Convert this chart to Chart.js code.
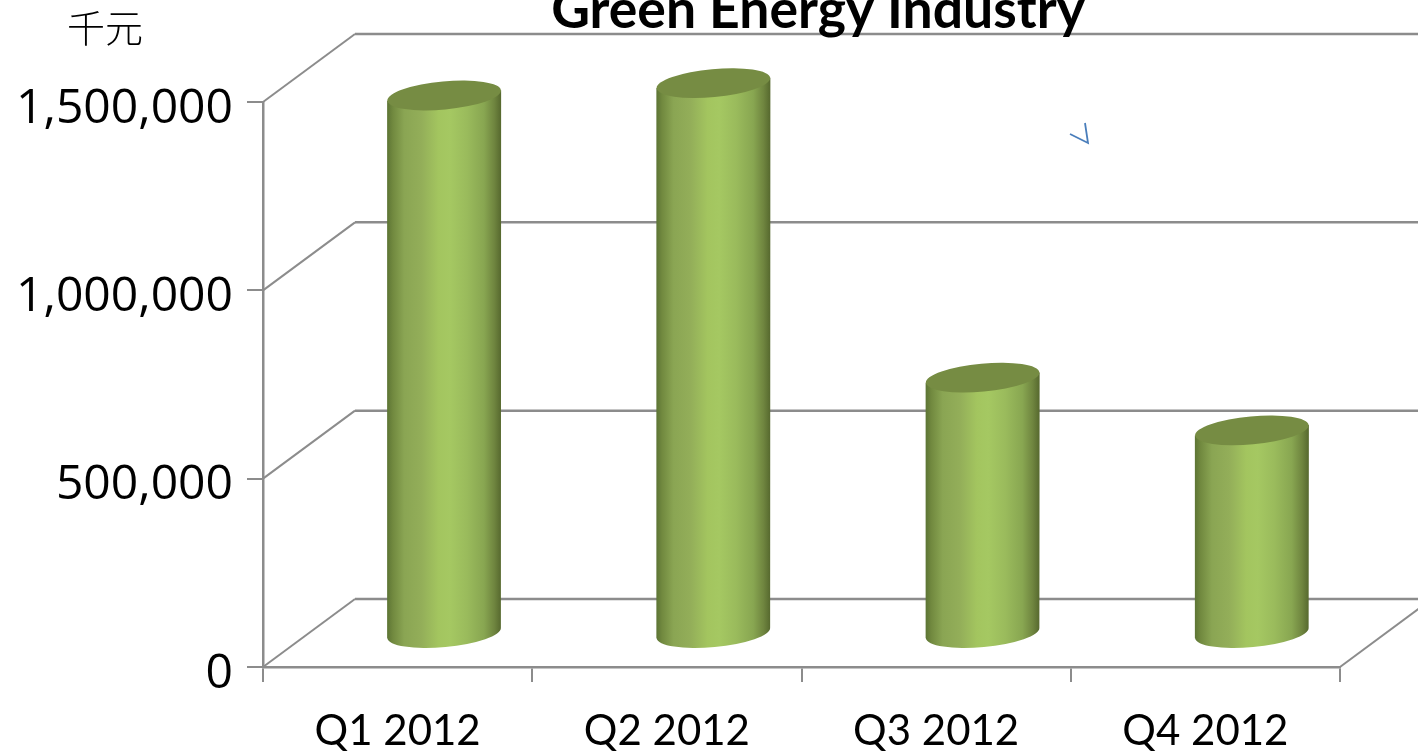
<!DOCTYPE html>
<html>
<head>
<meta charset="utf-8">
<title>Green Energy Industry</title>
<script src="https://cdn.jsdelivr.net/npm/chart.js@4"></script>
<style>
  html, body { margin: 0; padding: 0; background: #ffffff; overflow: hidden; }
  canvas { display: block; }
</style>
</head>
<body>
<canvas id="chart" width="1418" height="751"></canvas>
<script>
const quarters = ["Q1 2012", "Q2 2012", "Q3 2012", "Q4 2012"];
const revenue = [1427000, 1460000, 678000, 538000];
const yTickLabels = ["0", "500,000", "1,000,000", "1,500,000"];

const titleText = "Green Energy Industry";
const unitText = "千元";

const lineColor = "#8c8c8c";
// how far the back wall sits behind the front plane
const depthX = 92;
const depthY = 68;

// the walls and floor of the 3D box, behind the cylinders
const box3d = {
  id: "box3d",
  beforeDatasetsDraw(chart) {
    const { ctx, chartArea, scales } = chart;
    ctx.save();
    ctx.strokeStyle = lineColor;
    scales.y.ticks.forEach((tick) => {
      const y = scales.y.getPixelForValue(tick.value);
      ctx.lineWidth = 2;
      ctx.beginPath();
      ctx.moveTo(chartArea.left, y);
      ctx.lineTo(chartArea.left + depthX, y - depthY);
      ctx.stroke();
      ctx.lineWidth = 2.5;
      ctx.beginPath();
      ctx.moveTo(chartArea.left + depthX, y - depthY);
      ctx.lineTo(chart.width, y - depthY);
      ctx.stroke();
    });
    // right edge of the floor runs off the canvas
    ctx.lineWidth = 2;
    ctx.beginPath();
    ctx.moveTo(chartArea.right, chartArea.bottom);
    ctx.lineTo(chartArea.right + depthX, chartArea.bottom - depthY);
    ctx.stroke();
    ctx.restore();
  },
};

// cylinders stand halfway into the box, sized from the bar elements
const cylinders = {
  id: "cylinders",
  afterDatasetsDraw(chart) {
    const { ctx } = chart;
    const tilt = -0.092;
    const ry = 14;
    chart.getDatasetMeta(0).data.forEach((bar) => {
      const cx = bar.x + depthX / 2 + 0.5;
      const top = bar.y - depthY / 2;
      const bottom = bar.base - depthY / 2 + 1;
      const rx = bar.width / 2;
      const dy = Math.sin(tilt) * rx;

      const body = ctx.createLinearGradient(cx - rx, 0, cx + rx, 0);
      body.addColorStop(0, "#5c7434");
      body.addColorStop(0.05, "#71893f");
      body.addColorStop(0.15, "#8aa553");
      body.addColorStop(0.3, "#93ae59");
      body.addColorStop(0.45, "#a3c55f");
      body.addColorStop(0.55, "#a5c862");
      body.addColorStop(0.7, "#9abb5c");
      body.addColorStop(0.85, "#88a651");
      body.addColorStop(0.94, "#6f853f");
      body.addColorStop(1, "#56682e");

      ctx.save();
      ctx.fillStyle = body;
      ctx.beginPath();
      ctx.moveTo(cx - rx, top - dy);
      ctx.lineTo(cx - rx, bottom - dy);
      ctx.ellipse(cx, bottom, rx, ry, tilt, Math.PI, 0, true);
      ctx.lineTo(cx + rx, top + dy);
      ctx.closePath();
      ctx.fill();

      ctx.fillStyle = "#768c43";
      ctx.beginPath();
      ctx.ellipse(cx, top, rx, ry, tilt, 0, Math.PI * 2);
      ctx.fill();
      ctx.restore();
    });
  },
};

// title and unit sit outside the layout, title is cut by the top edge
const captions = {
  id: "captions",
  afterDraw(chart) {
    const { ctx } = chart;
    ctx.save();
    ctx.fillStyle = "#000000";
    ctx.textAlign = "center";
    ctx.textBaseline = "alphabetic";
    ctx.font = "bold 53.5px Lato, sans-serif";
    ctx.fillText(titleText, 818, 28);
    ctx.font = "300 38px 'Noto Sans CJK SC', sans-serif";
    ctx.fillText(unitText, 105, 42);

    // small stray connector mark
    ctx.strokeStyle = "#4a7ebb";
    ctx.lineWidth = 1.8;
    ctx.beginPath();
    ctx.moveTo(1070, 134);
    ctx.lineTo(1088, 143);
    ctx.lineTo(1085, 123);
    ctx.stroke();
    ctx.restore();
  },
};

new Chart(document.getElementById("chart"), {
  type: "bar",
  data: {
    labels: quarters,
    datasets: [
      {
        label: titleText,
        data: revenue,
        backgroundColor: "rgba(0, 0, 0, 0)",
        barThickness: 114,
      },
    ],
  },
  plugins: [box3d, cylinders, captions],
  options: {
    responsive: false,
    animation: false,
    layout: {
      padding: { top: 102, right: 78, bottom: 0, left: 0 },
    },
    plugins: {
      legend: { display: false },
      tooltip: { enabled: false },
    },
    scales: {
      x: {
        afterFit(scale) {
          scale.height = 84;
        },
        border: { color: lineColor, width: 2.5 },
        grid: {
          color: lineColor,
          lineWidth: 2,
          drawOnChartArea: false,
          tickLength: 15,
        },
        ticks: {
          color: "#000000",
          font: { family: "Lato, sans-serif", size: 42 },
          padding: 24,
          maxRotation: 0,
        },
      },
      y: {
        min: 0,
        max: 1500000,
        afterFit(scale) {
          scale.width = 263;
        },
        border: { color: lineColor, width: 2.5 },
        grid: {
          color: lineColor,
          lineWidth: 2,
          drawOnChartArea: false,
          tickLength: 16,
        },
        ticks: {
          stepSize: 500000,
          color: "#000000",
          font: { family: "'Open Sans', sans-serif", size: 48 },
          padding: 14,
          labelOffset: 7,
          callback: (val, i) => yTickLabels[i],
        },
      },
    },
  },
});
</script>
</body>
</html>
